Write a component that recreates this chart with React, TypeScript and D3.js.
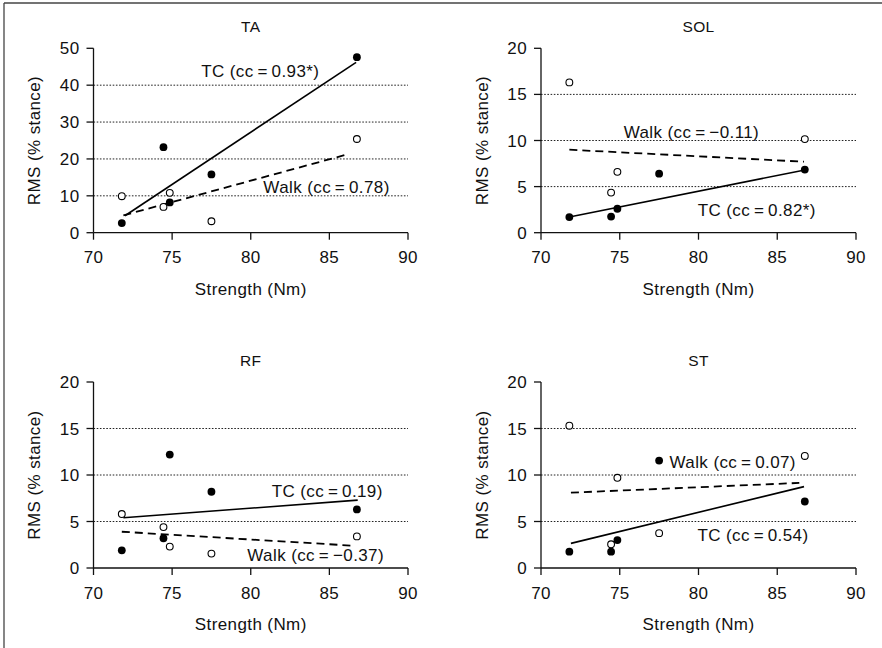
import React from "react";
import * as d3 from "d3";

// ---- data ----
const strength = [71.8, 74.45, 74.85, 77.5, 86.75];
const xTicks = [70, 75, 80, 85, 90];
const xDomain = [70, 90];

const titles = ["TA", "SOL", "RF", "ST"];
const yMaxes = [50, 20, 20, 20];
const yTicksTA = [0, 10, 20, 30, 40, 50];
const yTicksSmall = [0, 5, 10, 15, 20];

const tcTA = [2.6, 23.2, 8.2, 15.8, 47.6];
const walkTA = [9.9, 7.0, 10.8, 3.1, 25.4];
const tcSOL = [1.7, 1.75, 2.6, 6.4, 6.85];
const walkSOL = [16.3, 4.35, 6.6, NaN, 10.15];
const tcRF = [1.9, 3.2, 12.2, 8.2, 6.3];
const walkRF = [5.8, 4.4, 2.3, 1.55, 3.4];
const tcST = [1.75, 1.75, 3.0, 11.55, 7.15];
const walkST = [15.3, 2.55, 9.7, 3.75, 12.05];

// regression line end points [x, y]
const tcFitTA = [[72.0, 4.6], [86.7, 46.2]];
const walkFitTA = [[71.9, 4.7], [86.2, 21.3]];
const tcFitSOL = [[71.8, 1.7], [86.75, 6.8]];
const walkFitSOL = [[71.8, 9.0], [86.7, 7.7]];
const tcFitRF = [[71.9, 5.4], [86.8, 7.3]];
const walkFitRF = [[71.8, 3.9], [86.5, 2.4]];
const tcFitST = [[71.9, 2.65], [86.7, 8.75]];
const walkFitST = [[71.9, 8.1], [86.4, 9.15]];

const tcLabels = [
  "TC (cc\u2009=\u20090.93*)",
  "TC (cc\u2009=\u20090.82*)",
  "TC (cc\u2009=\u20090.19)",
  "TC (cc\u2009=\u20090.54)",
];
const walkLabels = [
  "Walk (cc\u2009=\u20090.78)",
  "Walk (cc\u2009=\u2009\u22120.11)",
  "Walk (cc\u2009=\u2009\u22120.37)",
  "Walk (cc\u2009=\u20090.07)",
];
// label anchors in data units [x, y]
const tcLabelAt = [[76.85, 42.2], [79.95, 1.84], [81.33, 7.6], [79.93, 2.87]];
const walkLabelAt = [[80.8, 10.68], [75.25, 10.3], [79.78, 0.78], [78.16, 10.75]];

const xLabel = "Strength (Nm)";
const yLabel = "RMS (% stance)";

// ---- layout ----
const W = 882;
const H = 648;
const FONT = "'Liberation Sans', Arial, Helvetica, sans-serif";
const frames = [
  { x0: 93.5, x1: 408, y0: 232.7, y1: 48.3 },
  { x0: 541, x1: 856, y0: 232.7, y1: 48.3 },
  { x0: 93.5, x1: 408, y0: 568, y1: 382 },
  { x0: 541, x1: 856, y0: 568, y1: 382 },
];

const tcSeries = [tcTA, tcSOL, tcRF, tcST];
const walkSeries = [walkTA, walkSOL, walkRF, walkST];
const tcFits = [tcFitTA, tcFitSOL, tcFitRF, tcFitST];
const walkFits = [walkFitTA, walkFitSOL, walkFitRF, walkFitST];

function Panel({ i }: { i: number }) {
  const f = frames[i];
  const x = d3.scaleLinear().domain(xDomain).range([f.x0, f.x1]);
  const y = d3.scaleLinear().domain([0, yMaxes[i]]).range([f.y0, f.y1]);
  const yTicks = i === 0 ? yTicksTA : yTicksSmall;
  const line = d3
    .line<number[]>()
    .x((d) => x(d[0]))
    .y((d) => y(d[1]));
  const cx = (f.x0 + f.x1) / 2;
  const cy = (f.y0 + f.y1) / 2;
  const txt = { fontFamily: FONT, fill: "#111", letterSpacing: "0.4px" } as any;
  return (
    <g>
      {/* gridlines */}
      {yTicks
        .filter((t) => t > 0 && t < yMaxes[i])
        .map((t) => (
          <line
            key={"g" + t}
            x1={x(70)}
            x2={x(90)}
            y1={y(t)}
            y2={y(t)}
            stroke="#222"
            strokeWidth={1}
            strokeDasharray="1.6,1.6"
          />
        ))}
      {/* axes */}
      <line x1={x(70)} x2={x(90)} y1={y(0)} y2={y(0)} stroke="#111" strokeWidth={1.3} />
      <line x1={x(70)} x2={x(70)} y1={y(0)} y2={y(yMaxes[i])} stroke="#111" strokeWidth={1.3} />
      {yTicks.map((t) => (
        <g key={"yt" + t}>
          <line x1={x(70) - 7} x2={x(70)} y1={y(t)} y2={y(t)} stroke="#111" strokeWidth={1.3} />
          <text x={x(70) - 14} y={y(t) + 6} textAnchor="end" fontSize={17} style={txt}>
            {t}
          </text>
        </g>
      ))}
      {xTicks.map((t) => (
        <g key={"xt" + t}>
          <line x1={x(t)} x2={x(t)} y1={y(0)} y2={y(0) + 7} stroke="#111" strokeWidth={1.3} />
          <text x={x(t)} y={y(0) + 30.5} textAnchor="middle" fontSize={17} style={txt}>
            {t}
          </text>
        </g>
      ))}
      {/* titles and axis labels */}
      <text x={cx} y={f.y1 - 16} textAnchor="middle" fontSize={15.5} style={txt}>
        {titles[i]}
      </text>
      <text x={cx} y={f.y0 + 62} textAnchor="middle" fontSize={17} style={txt}>
        {xLabel}
      </text>
      <text
        transform={`translate(${f.x0 - 53.5},${cy}) rotate(-90)`}
        textAnchor="middle"
        fontSize={17}
        style={txt}
      >
        {yLabel}
      </text>
      {/* fits */}
      <path d={line(tcFits[i] as any) || ""} fill="none" stroke="#000" strokeWidth={1.6} />
      <path
        d={line(walkFits[i] as any) || ""}
        fill="none"
        stroke="#000"
        strokeWidth={1.8}
        strokeDasharray="8,5"
      />
      {/* points */}
      {walkSeries[i].map((v, k) =>
        Number.isFinite(v) ? (
          <circle key={"w" + k} cx={x(strength[k])} cy={y(v)} r={3.4} fill="#fff" stroke="#000" strokeWidth={1.1} />
        ) : null
      )}
      {tcSeries[i].map((v, k) => (
        <circle key={"t" + k} cx={x(strength[k])} cy={y(v)} r={3.9} fill="#000" />
      ))}
      {/* labels */}
      <text x={x(tcLabelAt[i][0])} y={y(tcLabelAt[i][1])} fontSize={17} style={txt}>
        {tcLabels[i]}
      </text>
      <text x={x(walkLabelAt[i][0])} y={y(walkLabelAt[i][1])} fontSize={17} style={txt}>
        {walkLabels[i]}
      </text>
    </g>
  );
}

export default function App() {
  return (
    <svg
      width={W}
      height={H}
      style={{ position: "fixed", left: 0, top: 0, background: "#fff" }}
    >
      <rect x={0} y={0} width={W} height={H} fill="#fff" />
      <line x1={4} x2={W} y1={3} y2={3} stroke="#444" strokeWidth={1.3} />
      <line x1={4} x2={4} y1={3} y2={H} stroke="#444" strokeWidth={1.3} />
      {[0, 1, 2, 3].map((i) => (
        <Panel key={i} i={i} />
      ))}
    </svg>
  );
}
